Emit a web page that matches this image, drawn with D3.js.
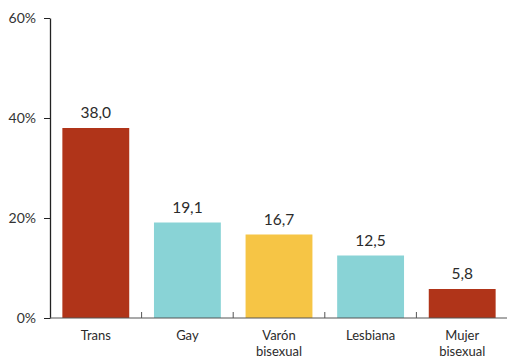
<!DOCTYPE html>
<html>
<head>
<meta charset="utf-8">
<script src="https://cdn.jsdelivr.net/npm/d3@7"></script>
<style>
  html, body { margin: 0; padding: 0; background: #fff; }
  svg { display: block; font-family: "Lato", "Open Sans", sans-serif; }
</style>
</head>
<body>
<svg id="chart" width="507" height="358"></svg>
<script>
// Categories, values (%) and bar colours
const categories = ["Trans", "Gay", "Varón\nbisexual", "Lesbiana", "Mujer\nbisexual"];
const values = [38.0, 19.1, 16.7, 12.5, 5.8];
const colors = ["#b03419", "#89d3d6", "#f6c545", "#89d3d6", "#b03419"];
const yTicks = [0, 20, 40, 60];

(function drawChart() {
  const svg = d3.select("#chart");
  const m = { left: 50, right: 508, top: 18, bottom: 318 };

  const x = d3.scaleBand()
    .domain(categories)
    .range([m.left, m.right])
    .paddingInner(0.27)
    .paddingOuter(0.135);

  const y = d3.scaleLinear().domain([0, 60]).range([m.bottom, m.top]);

  // Bars
  svg.append("g").selectAll("rect")
    .data(values)
    .join("rect")
    .attr("x", (d, i) => x(categories[i]))
    .attr("width", x.bandwidth())
    .attr("y", d => y(d))
    .attr("height", d => y(0) - y(d))
    .attr("fill", (d, i) => colors[i]);

  // Value labels (decimal comma)
  svg.append("g").selectAll("text")
    .data(values)
    .join("text")
    .attr("x", (d, i) => x(categories[i]) + x.bandwidth() / 2)
    .attr("y", d => y(d) - 10)
    .attr("text-anchor", "middle")
    .attr("font-size", 15.5)
    .attr("fill", "#2b2b2b")
    .text(d => d.toFixed(1).replace(".", ","));

  // Y axis
  const yAxis = svg.append("g")
    .attr("transform", `translate(${m.left},0)`)
    .call(d3.axisLeft(y).tickValues(yTicks).tickFormat(d => d + "%").tickSize(6).tickSizeOuter(0));
  yAxis.select(".domain").attr("stroke", "#222").attr("stroke-width", 1.3);
  yAxis.selectAll(".tick line").attr("stroke", "#222");
  yAxis.selectAll(".tick text")
    .attr("font-size", 14)
    .attr("font-family", "Lato, 'Open Sans', sans-serif")
    .attr("fill", "#333")
    .attr("x", -14);

  // X axis baseline
  svg.append("line")
    .attr("x1", m.left).attr("x2", 507)
    .attr("y1", y(0)).attr("y2", y(0))
    .attr("stroke", "#555").attr("stroke-width", 1.2);

  // Separator ticks between categories
  const step = x.step();
  svg.append("g").selectAll("line")
    .data(categories.slice(1))
    .join("line")
    .attr("x1", d => x(d) - x.paddingInner() * step / 2)
    .attr("x2", d => x(d) - x.paddingInner() * step / 2)
    .attr("y1", y(0))
    .attr("y2", y(0) - 6)
    .attr("stroke", "#555");

  // Category labels (may wrap to two lines)
  svg.append("g").selectAll("text")
    .data(categories)
    .join("text")
    .attr("text-anchor", "middle")
    .attr("font-size", 13)
    .attr("fill", "#2b2b2b")
    .each(function(d) {
      const t = d3.select(this);
      const cx = x(d) + x.bandwidth() / 2;
      d.split("\n").forEach((line, k) => {
        t.append("tspan").attr("x", cx).attr("y", 340 + k * 16).text(line);
      });
    });
})();
</script>
</body>
</html>
